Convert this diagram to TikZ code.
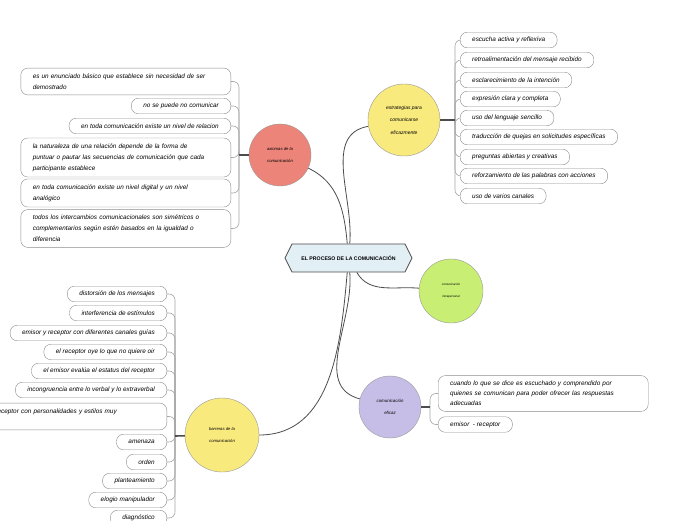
\documentclass[tikz,border=0pt]{standalone}
\usepackage{fontspec}
\setmainfont{Liberation Sans}
\usetikzlibrary{shapes.symbols,backgrounds}
\definecolor{redc}{HTML}{EC8479}
\definecolor{yelc}{HTML}{F9EA7E}
\definecolor{grnc}{HTML}{C8EE74}
\definecolor{purc}{HTML}{C6BEE6}
\definecolor{cfill}{HTML}{E2EFF5}
\begin{document}
\begin{tikzpicture}[x=1pt,y=1pt,
 leaf/.style={draw=black!45, fill=white, rounded corners=7pt, inner xsep=12pt, inner ysep=0pt, minimum height=15.5pt, font=\fontsize{6.4}{11}\selectfont\itshape},
 wideleaf/.style={leaf, text width=186pt, align=left, inner ysep=5.5pt},
 topic/.style={circle, draw=black!40, inner sep=0pt, align=center},
 mainline/.style={draw=black!70, line width=0.8pt},
 stem/.style={draw=black!70, line width=1.6pt},
 branch/.style={draw=black!35, line width=0.6pt, rounded corners=6pt}]
\useasboundingbox (0,0) rectangle (696,520);
\clip (0,0) rectangle (696,520);

% central node
\node[signal, signal to=east and west, signal pointer angle=127, draw=black!70, line width=0.8pt, fill=cfill, minimum width=127pt, minimum height=28pt, inner sep=0pt, font=\fontsize{5.2}{6}\selectfont\bfseries] (c) at (348.5,262) {EL PROCESO DE LA COMUNICACIÓN};

% topics
\node[topic, fill=redc, minimum size=62pt, font=\fontsize{4.2}{12.5}\selectfont\itshape] (ax) at (280,365) {axiomas de la\\comunicación};
\node[topic, fill=yelc, minimum size=72pt, font=\fontsize{5}{12.5}\selectfont\itshape] (es) at (404,400) {estrategias para\\comunicarse\\eficazmente};
\node[topic, fill=grnc, minimum size=64pt, font=\fontsize{3}{12}\selectfont\itshape] (gr) at (451,229) {comunicación\\intrapersonal};
\node[topic, fill=purc, minimum size=62pt, font=\fontsize{4.4}{12.5}\selectfont\itshape] (ef) at (390,113) {comunicación\\eficaz};
\node[topic, fill=yelc, minimum size=74pt, font=\fontsize{4.2}{12.5}\selectfont\itshape] (ba) at (222,85) {barreras de la\\comunicación};

% junctions
\coordinate (ja) at (239,365);
\coordinate (js) at (455,400);
\coordinate (je) at (430,113);
\coordinate (jb) at (175,84);

% axiomas
\node[wideleaf, anchor=east] (a1) at (231,438.5) {es un enunciado básico que establece sin necesidad de ser\\demostrado};
\node[leaf, anchor=east] (a2) at (231,414) {no se puede no comunicar};
\node[leaf, anchor=east] (a3) at (231,394) {en toda comunicación existe un nivel de relacion};
\node[wideleaf, anchor=east] (a4) at (231,362.5) {la naturaleza de una relación depende de la forma de\\puntuar o pautar las secuencias de comunicación que cada\\participante establece};
\node[wideleaf, anchor=east] (a5) at (231,327) {en toda comunicación existe un nivel digital y un nivel\\analógico};
\node[wideleaf, anchor=east] (a6) at (231,291.5) {todos los intercambios comunicacionales son simétricos o\\complementarios según estén basados en la igualdad o\\diferencia};

% estrategias
\node[leaf, anchor=west] (s1) at (460,480) {escucha activa y reflexiva};
\node[leaf, anchor=west] (s2) at (460,460) {retroalimentación del mensaje recibido};
\node[leaf, anchor=west] (s3) at (460,440) {esclarecimiento de la intención};
\node[leaf, anchor=west] (s4) at (460,421) {expresión clara y completa};
\node[leaf, anchor=west] (s5) at (460,402) {uso del lenguaje sencillo};
\node[leaf, anchor=west] (s6) at (460,383) {traducción de quejas en solicitudes específicas};
\node[leaf, anchor=west] (s7) at (460,363) {preguntas abiertas y creativas};
\node[leaf, anchor=west] (s8) at (460,344) {reforzamiento de las palabras con acciones};
\node[leaf, anchor=west] (s9) at (460,324) {uso de varios canales};

% eficaz
\node[wideleaf, anchor=west, font=\fontsize{6.4}{10}\selectfont\itshape] (e1) at (438,126.5) {cuando lo que se dice es escuchado y comprendido por\\quienes se comunican para poder ofrecer las respuestas\\adecuadas};
\node[leaf, anchor=west] (e2) at (438,95.5) {emisor \ - receptor};

% barreras
\node[leaf, anchor=east] (b1) at (167,226) {distorsión de los mensajes};
\node[leaf, anchor=east] (b2) at (167,207) {interferencia de estímulos};
\node[leaf, anchor=east] (b3) at (167,187) {emisor y receptor con diferentes canales guías};
\node[leaf, anchor=east] (b4) at (167,168) {el receptor oye lo que no quiere oir};
\node[leaf, anchor=east] (b5) at (167,149) {el emisor evalúa el estatus del receptor};
\node[leaf, anchor=east] (b6) at (167,130) {incongruencia entre lo verbal y lo extraverbal};
\node[wideleaf, anchor=east] (b7) at (167,103.5) {emisor y receptor con personalidades y estilos muy\\diferentes};
\node[leaf, anchor=east] (b8) at (167,78) {amenaza};
\node[leaf, anchor=east] (b9) at (167,58) {orden};
\node[leaf, anchor=east] (b10) at (167,39) {planteamiento};
\node[leaf, anchor=east] (b11) at (167,20) {elogio manipulador};
\node[leaf, anchor=east] (b12) at (167,2) {diagnóstico};

% stems
\draw[stem] (ax) -- (ja);
\draw[stem] (es) -- (js);
\draw[stem] (ef) -- (je);
\draw[stem] (ba) -- (jb);

\begin{pgfonlayer}{background}
\fill[white] (0,0) rectangle (696,520);
\draw[mainline] (c) to[out=95,in=-25] (ax);
\draw[mainline] (c) to[out=85,in=190] (es);
\draw[mainline] (c) to[out=-60,in=175] (gr);
\draw[mainline] (c) to[out=-85,in=165] (ef);
\draw[mainline] (c) to[out=-95,in=0] (ba);
\foreach \n in {a1,a2,a3,a4,a5,a6} \draw[branch] (ja) |- (\n.east);
\foreach \n in {s1,s2,s3,s4,s5,s6,s7,s8,s9} \draw[branch] (js) |- (\n.west);
\foreach \n in {e1,e2} \draw[branch] (je) |- (\n.west);
\foreach \n in {b1,b2,b3,b4,b5,b6,b7,b8,b9,b10,b11,b12} \draw[branch] (jb) |- (\n.east);
\end{pgfonlayer}
\end{tikzpicture}
\end{document}
